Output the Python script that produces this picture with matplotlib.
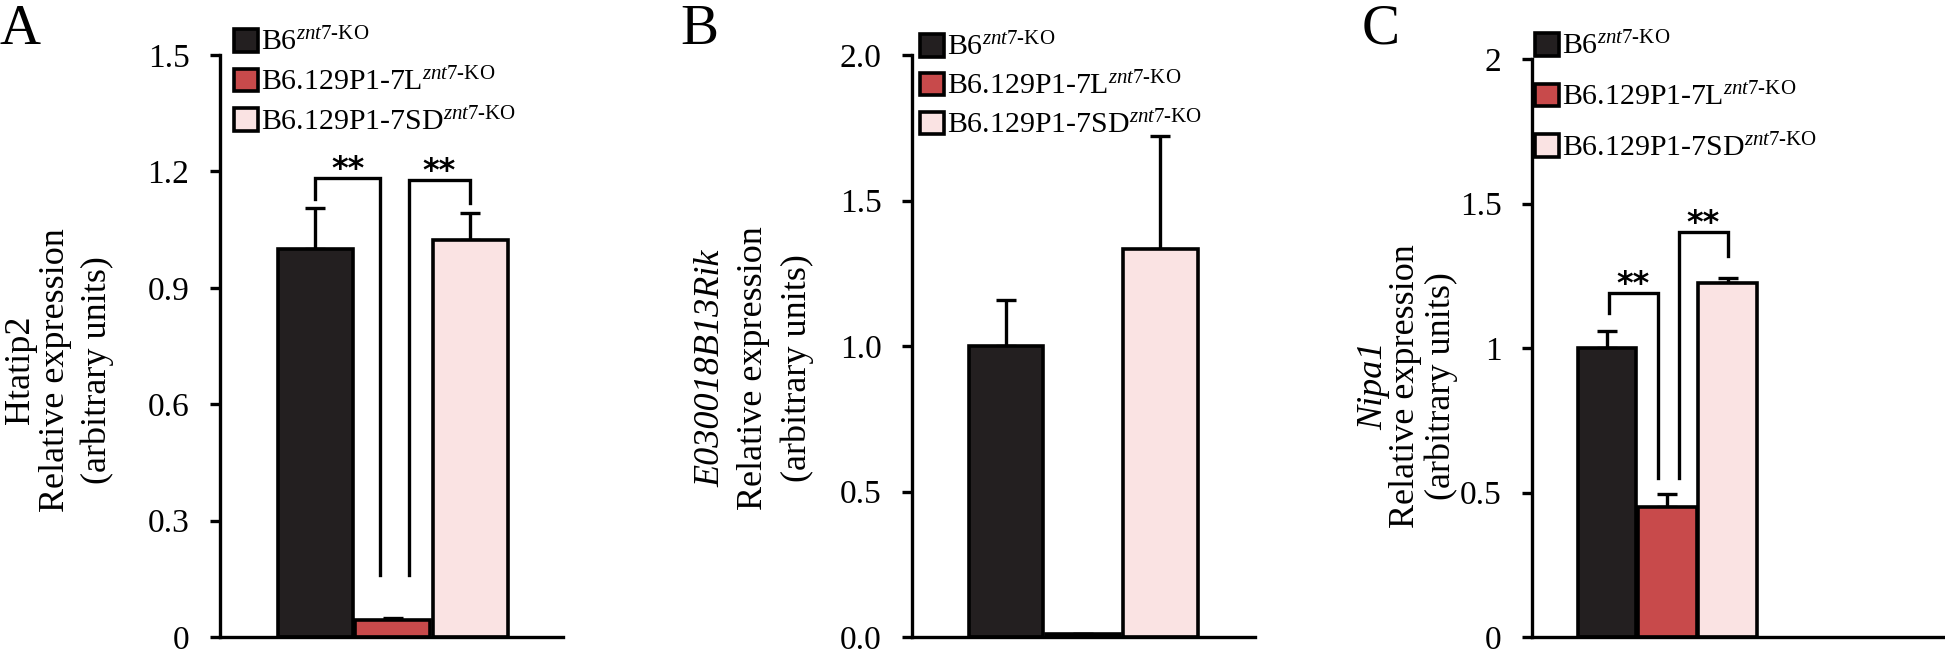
import matplotlib
matplotlib.use("Agg")
import matplotlib.pyplot as plt

plt.rcParams['font.family'] = 'Liberation Serif'
plt.rcParams['mathtext.fontset'] = 'custom'
plt.rcParams['mathtext.rm'] = 'Liberation Serif'
plt.rcParams['mathtext.it'] = 'Liberation Serif:italic'

### DATA ###

strains = ['B6$^{\\mathit{znt7}\\mathrm{\u2010KO}}$',
           'B6.129P1-7L$^{\\mathit{znt7}\\mathrm{\u2010KO}}$',
           'B6.129P1-7SD$^{\\mathit{znt7}\\mathrm{\u2010KO}}$']
colors = ['#231f20', '#c84a4b', '#fae3e3']

htatip2_mean = [1.00, 0.044, 1.022]
htatip2_err = [0.105, 0.006, 0.070]
rik_mean = [1.00, 0.01, 1.333]
rik_err = [0.158, 0.0, 0.387]
nipa1_mean = [1.00, 0.45, 1.225]
nipa1_err = [0.058, 0.045, 0.017]

# significance brackets: (x_left, x_right, top, left_end, right_end)
htatip2_sig = [(0.0, 0.84, 1.182, 1.13, 0.16), (1.21, 2.0, 1.177, 0.16, 1.118)]
nipa1_sig = [(0.03, 0.85, 1.19, 1.12, 0.55), (1.2, 2.0, 1.40, 0.55, 1.32)]

W, H = 1945, 649
fig = plt.figure(figsize=(W / 100, H / 100), dpi=100)


def px(x, y):
    return x / W, 1 - y / H


def panel(rect, mean, err, ymax, yticks, yticklabels, xlim, sig):
    ax = fig.add_axes(rect)
    x = list(range(len(mean)))
    bars = ax.bar(x, mean, width=0.97, color=colors, edgecolor='black',
                  linewidth=2.6, zorder=2)
    ax.errorbar(x, mean, yerr=[[0] * len(err), err], fmt='none', ecolor='black',
                elinewidth=2.4, capsize=7, capthick=2.4, zorder=1)
    for (xl, xr, top, le, re) in sig:
        ax.plot([xl, xl, xr, xr], [le, top, top, re], color='black', lw=2.4,
                solid_joinstyle='miter', clip_on=False)
        ax.text((xl + xr) / 2, top, '**', ha='center', va='baseline',
                family='DejaVu Sans', fontsize=23, fontweight='bold')
    ax.set_ylim(0, ymax)
    ax.set_xlim(*xlim)
    ax.set_yticks(yticks)
    ax.set_yticklabels(yticklabels, fontsize=24)
    ax.set_xticks([])
    for s in ['top', 'right']:
        ax.spines[s].set_visible(False)
    for s in ['left', 'bottom']:
        ax.spines[s].set_linewidth(2.4)
    ax.tick_params(axis='y', direction='out', length=7, width=2.4, pad=15)
    ax.patch.set_alpha(0)
    return ax, bars


# A
axA, barsA = panel([220 / W, 12 / H, 343 / W, 582 / H], htatip2_mean, htatip2_err, 1.5,
                   [0, 0.3, 0.6, 0.9, 1.2, 1.5], ['0', '0.3', '0.6', '0.9', '1.2', '1.5'],
                   (-1.23, 3.2), htatip2_sig)
# B
axB, barsB = panel([912 / W, 12 / H, 343 / W, 582 / H], rik_mean, rik_err, 2.0,
                   [0, 0.5, 1.0, 1.5, 2.0], ['0.0', '0.5', '1.0', '1.5', '2.0'],
                   (-1.22, 3.23), [])
# C
axC, barsC = panel([1532 / W, 12 / H, 413 / W, 578 / H], nipa1_mean, nipa1_err, 2.0,
                   [0, 0.5, 1, 1.5, 2], ['0', '0.5', '1', '1.5', '2'],
                   (-1.24, 5.6), nipa1_sig)

# legends
for ax, bars, (lx, ly), sp in [(axA, barsA, (234, 28), 0.38),
                               (axB, barsB, (920, 33), 0.35),
                               (axC, barsC, (1535, 32), 0.75)]:
    ax.legend(bars, strains, loc='upper left', bbox_to_anchor=px(lx, ly),
              bbox_transform=fig.transFigure, frameon=False, fontsize=21.5,
              handlelength=0.8, handleheight=0.8, handletextpad=0.12,
              labelspacing=sp, borderpad=0, borderaxespad=0)

# y labels
ylab = [
    ('Htatip2', 'normal', [21, 55, 97], 370),
    ('E030018B13Rik', 'italic', [711, 753, 797], 368),
    ('Nipa1', 'italic', [1374, 1406, 1441], 386),
]
for gene, style, xs, yc in ylab:
    fig.text(*px(xs[0], yc), gene, rotation=90, ha='center', va='center',
             fontsize=26, style=style)
    fig.text(*px(xs[1], yc), 'Relative expression', rotation=90, ha='center',
             va='center', fontsize=26)
    fig.text(*px(xs[2], yc), '(arbitrary units)', rotation=90, ha='center',
             va='center', fontsize=26)

# panel letters
for letter, lx in [('A', 0), ('B', 680), ('C', 1362)]:
    fig.text(*px(lx, 44), letter, ha='left', va='baseline', fontsize=41)

fig.savefig('out.png', dpi=100)
